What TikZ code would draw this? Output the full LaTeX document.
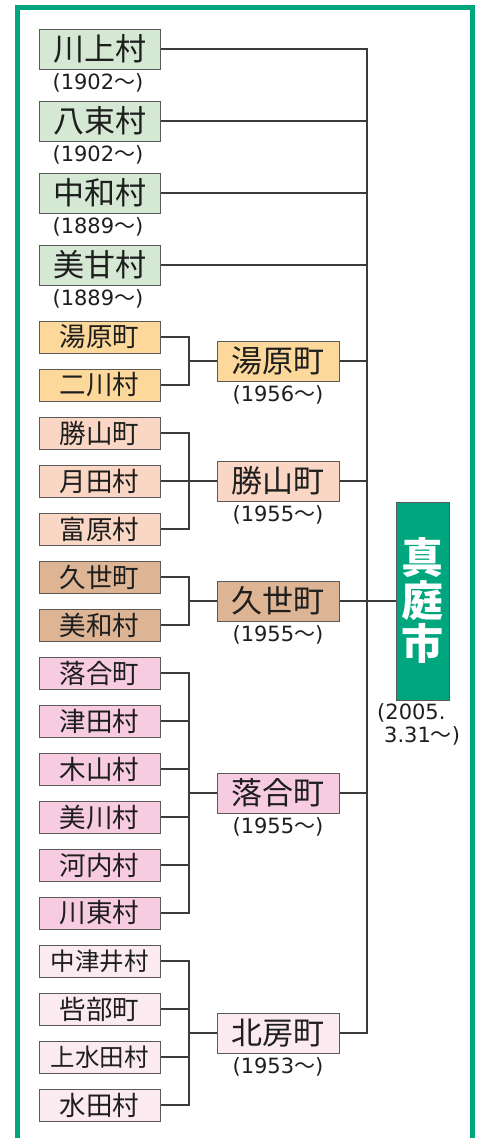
\documentclass[tikz,border=0pt]{standalone}
\usepackage{fontspec}
\newfontfamily\jpf{Noto Sans CJK JP}
\newfontfamily\numf{DejaVu Sans}
\newcommand\yrtxt[1]{{\numf (#1}{\jpf ～}{\numf )}}
\definecolor{frgreen}{RGB}{0,166,126}
\definecolor{cgreen}{RGB}{213,232,212}
\definecolor{corange}{RGB}{253,216,155}
\definecolor{cpeach}{RGB}{250,214,196}
\definecolor{ctan}{RGB}{222,181,148}
\definecolor{cpink}{RGB}{248,204,224}
\definecolor{clpink}{RGB}{252,234,241}
\definecolor{boxgray}{RGB}{90,90,90}
\definecolor{linegray}{RGB}{60,60,60}
\definecolor{txt}{RGB}{30,30,30}
\tikzset{
  box/.style={draw=boxgray, line width=1pt, inner sep=0pt, text=txt},
  bigbox/.style={box, minimum width=121pt, minimum height=40pt, font=\jpf\fontsize{31}{31}\selectfont},
  smallbox/.style={box, minimum width=121pt, minimum height=32pt, font=\jpf\fontsize{26.5}{26.5}\selectfont},
  fourbox/.style={smallbox, font=\jpf\fontsize{24.5}{24.5}\selectfont},
  midbox/.style={box, minimum width=122pt, minimum height=40pt, font=\jpf\fontsize{31}{31}\selectfont},
  yr/.style={inner sep=0pt, text=txt, font=\fontsize{21}{21}\selectfont},
  conn/.style={draw=linegray, line width=1.2pt},
}
\begin{document}
\begin{tikzpicture}[x=1pt,y=-1pt]
\useasboundingbox (0,0) rectangle (478,1138);
\draw[frgreen, line width=5pt, line join=miter] (17.5,1150) -- (17.5,7.5) -- (472.5,7.5) -- (472.5,1150);

\coordinate (trunk) at (367,0);
\coordinate (brk) at (189,0);

% top villages
\node[bigbox, fill=cgreen] (kawakami) at (99.5,49) {川上村};
\node[yr] (ykawakami) at (98,83) {\yrtxt{1902}};
\node[bigbox, fill=cgreen] (yatsuka) at (99.5,121) {八束村};
\node[yr] (yyatsuka) at (98,155) {\yrtxt{1902}};
\node[bigbox, fill=cgreen] (nakawa) at (99.5,193) {中和村};
\node[yr] (ynakawa) at (98,227) {\yrtxt{1889}};
\node[bigbox, fill=cgreen] (mikamo) at (99.5,265) {美甘村};
\node[yr] (ymikamo) at (98,299) {\yrtxt{1889}};

% Yubara group
\node[smallbox, fill=corange] (yubara0) at (99.5,337) {湯原町};
\node[smallbox, fill=corange] (futakawa) at (99.5,385) {二川村};
\node[midbox, fill=corange] (yubara) at (278,361) {湯原町};
\node[yr] (yyubara) at (278,395) {\yrtxt{1956}};

% Katsuyama group
\node[smallbox, fill=cpeach] (katsu0) at (99.5,433) {勝山町};
\node[smallbox, fill=cpeach] (tsukida) at (99.5,481) {月田村};
\node[smallbox, fill=cpeach] (tomi) at (99.5,529) {富原村};
\node[midbox, fill=cpeach] (katsu) at (278,481) {勝山町};
\node[yr] (ykatsu) at (278,515) {\yrtxt{1955}};

% Kuse group
\node[smallbox, fill=ctan] (kuse0) at (99.5,577) {久世町};
\node[smallbox, fill=ctan] (miwa) at (99.5,625) {美和村};
\node[midbox, fill=ctan] (kuse) at (278,601) {久世町};
\node[yr] (ykuse) at (278,635) {\yrtxt{1955}};

% Ochiai group
\node[smallbox, fill=cpink] (ochi0) at (99.5,673) {落合町};
\node[smallbox, fill=cpink] (tsuda) at (99.5,721) {津田村};
\node[smallbox, fill=cpink] (kiyama) at (99.5,769) {木山村};
\node[smallbox, fill=cpink] (mikawa) at (99.5,817) {美川村};
\node[smallbox, fill=cpink] (kouchi) at (99.5,865) {河内村};
\node[smallbox, fill=cpink] (kawahigashi) at (99.5,913) {川東村};
\node[midbox, fill=cpink] (ochi) at (278,793) {落合町};
\node[yr] (yochi) at (278,827) {\yrtxt{1955}};

% Hokubo group
\node[fourbox, fill=clpink] (nakatsui) at (99.5,961) {中津井村};
\node[smallbox, fill=clpink] (azae) at (99.5,1009) {呰部町};
\node[fourbox, fill=clpink] (kamimizuta) at (99.5,1057) {上水田村};
\node[smallbox, fill=clpink] (mizuta) at (99.5,1105) {水田村};
\node[midbox, fill=clpink] (hokubo) at (278,1033) {北房町};
\node[yr] (yhokubo) at (278,1067) {\yrtxt{1953}};

% Maniwa
\node[draw=boxgray, line width=1pt, fill=frgreen, minimum width=53pt, minimum height=198pt, inner sep=0pt,
      text=white, align=center, font=\jpf\bfseries\fontsize{42}{43}\selectfont] (maniwa) at (422.5,601) {真\\庭\\市};
\node[yr, anchor=west] (ymaniwa1) at (377,713) {{\numf (2005.}};
\node[yr, anchor=west] (ymaniwa2) at (384,736) {{\numf 3.31}{\jpf ～}{\numf )}};

% connectors: brackets
\draw[conn] (yubara0.east) -- (yubara0.east -| brk) -- (futakawa.east -| brk) -- (futakawa.east);
\draw[conn] (yubara.west -| brk) -- (yubara.west);

\draw[conn] (katsu0.east) -- (katsu0.east -| brk) -- (tomi.east -| brk) -- (tomi.east);
\draw[conn] (tsukida.east) -- (katsu.west);

\draw[conn] (kuse0.east) -- (kuse0.east -| brk) -- (miwa.east -| brk) -- (miwa.east);
\draw[conn] (kuse.west -| brk) -- (kuse.west);

\draw[conn] (ochi0.east) -- (ochi0.east -| brk) -- (kawahigashi.east -| brk) -- (kawahigashi.east);
\foreach \n in {tsuda,kiyama,mikawa,kouchi} \draw[conn] (\n.east) -- (\n.east -| brk);
\draw[conn] (ochi.west -| brk) -- (ochi.west);

\draw[conn] (nakatsui.east) -- (nakatsui.east -| brk) -- (mizuta.east -| brk) -- (mizuta.east);
\foreach \n in {azae,kamimizuta} \draw[conn] (\n.east) -- (\n.east -| brk);
\draw[conn] (hokubo.west -| brk) -- (hokubo.west);

% trunk
\draw[conn] (kawakami.east) -- (kawakami.east -| trunk) -- (hokubo.east -| trunk) -- (hokubo.east);
\foreach \n in {yatsuka,nakawa,mikamo,yubara,katsu,kuse,ochi} \draw[conn] (\n.east) -- (\n.east -| trunk);
\draw[conn] (maniwa.west -| trunk) -- (maniwa.west);
\end{tikzpicture}
\end{document}
